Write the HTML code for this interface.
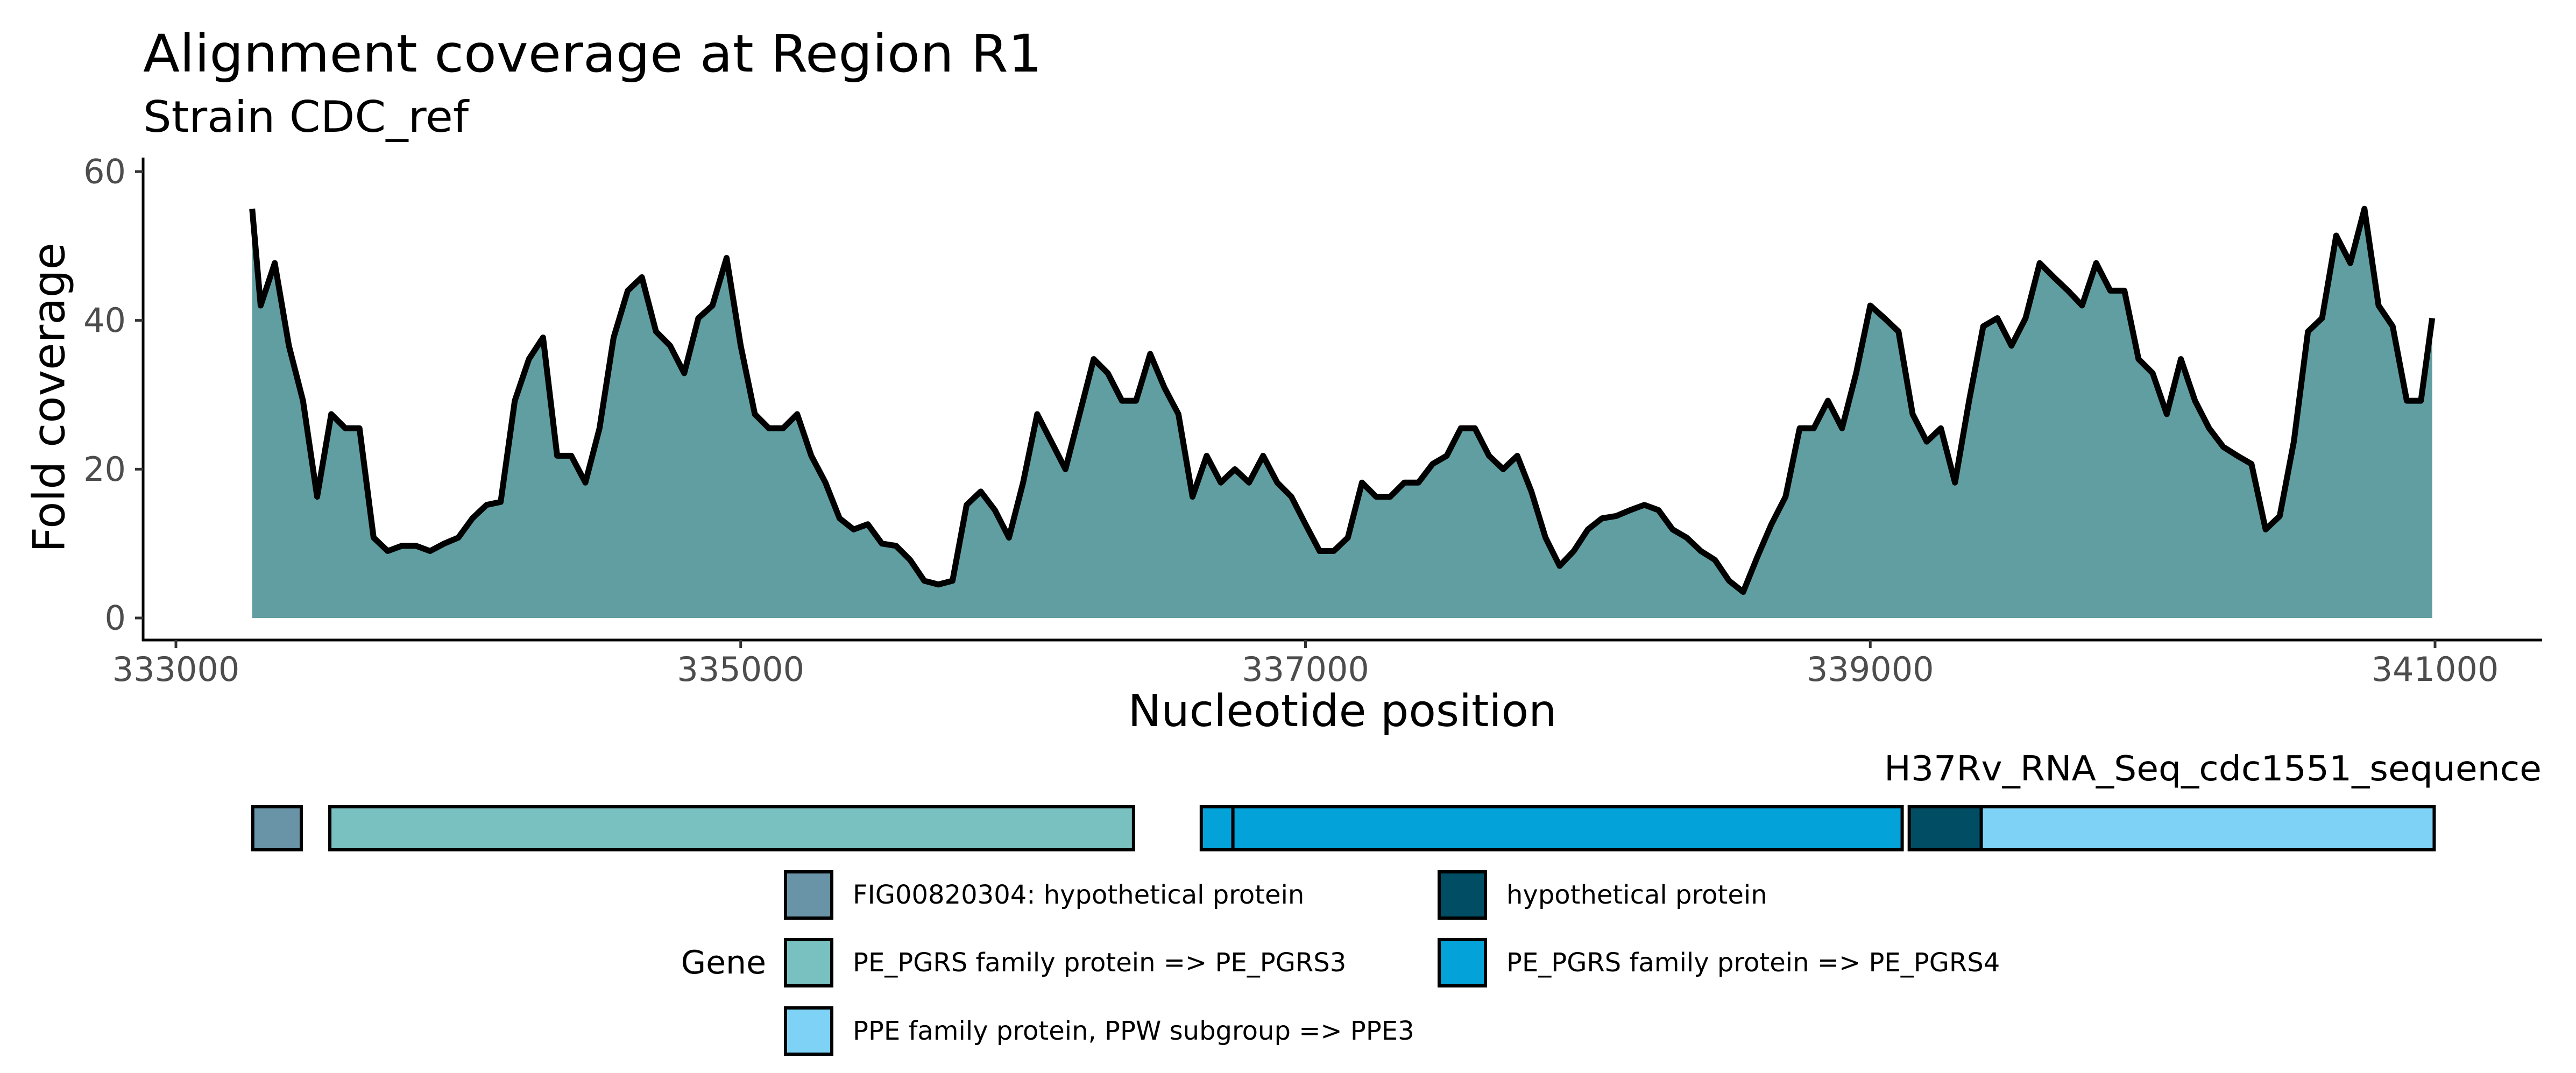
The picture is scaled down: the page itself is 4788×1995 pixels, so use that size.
<!DOCTYPE html>
<html><head><meta charset="utf-8">
<style>
html,body{margin:0;padding:0;background:#fff;}
svg{display:block;font-family:"DejaVu Sans","Liberation Sans",sans-serif;}
</style></head>
<body>
<svg id="chart" width="4788" height="1995" viewBox="0 0 4788 1995" xmlns="http://www.w3.org/2000/svg">
  <rect x="0" y="0" width="4788" height="1995" fill="#fff"/>
  <text x="266" y="133" font-size="96" fill="#000" textLength="1671" lengthAdjust="spacingAndGlyphs">Alignment coverage at Region R1</text>
  <text x="266" y="245" font-size="80" fill="#000" textLength="605" lengthAdjust="spacingAndGlyphs">Strain CDC_ref</text>
  <g id="plot"></g>
  <g id="axes"></g>
  <text x="92" y="739" font-size="82" fill="#000" text-anchor="middle" dominant-baseline="central" transform="rotate(-90 92 739)">Fold coverage</text>
  <text x="2495" y="1350" font-size="82" fill="#000" text-anchor="middle" textLength="797" lengthAdjust="spacingAndGlyphs">Nucleotide position</text>
  <text x="4724" y="1451" font-size="64" fill="#000" text-anchor="end" textLength="1222" lengthAdjust="spacingAndGlyphs">H37Rv_RNA_Seq_cdc1551_sequence</text>
  <g id="genes"></g>
  <g id="legend">
    <text x="1424" y="1790" font-size="60" fill="#000" text-anchor="end" dominant-baseline="central">Gene</text>
  </g>
</svg>
<script>
const positions = [333270,333300,333350,333400,333450,333500,333550,333600,333650,333700,333750,333800,333850,333900,333950,334000,334050,334100,334150,334200,334250,334300,334350,334400,334450,334500,334550,334600,334650,334700,334750,334800,334850,334900,334950,335000,335050,335100,335150,335200,335250,335300,335350,335400,335450,335500,335550,335600,335650,335700,335750,335800,335850,335900,335950,336000,336050,336100,336150,336200,336250,336300,336350,336400,336450,336500,336550,336600,336650,336700,336750,336800,336850,336900,336950,337000,337050,337100,337150,337200,337250,337300,337350,337400,337450,337500,337550,337600,337650,337700,337750,337800,337850,337900,337950,338000,338050,338100,338150,338200,338250,338300,338350,338400,338450,338500,338550,338600,338650,338700,338750,338800,338850,338900,338950,339000,339050,339100,339150,339200,339250,339300,339350,339400,339450,339500,339550,339600,339650,339700,339750,339800,339850,339900,339950,340000,340050,340100,340150,340200,340250,340300,340350,340400,340450,340500,340550,340600,340650,340700,340750,340800,340850,340900,340950,340990];
const coverage = [55,42,47.7,36.6,29.2,16.3,27.4,25.5,25.5,10.8,9,9.7,9.7,9,10,10.8,13.4,15.2,15.6,29.2,34.8,37.7,21.8,21.8,18.2,25.5,37.7,44,45.8,38.5,36.6,32.9,40.3,42,48.4,36.6,27.4,25.5,25.5,27.4,21.8,18.2,13.4,11.9,12.6,10,9.7,7.8,5,4.5,5,15.2,17,14.5,10.8,18.2,27.4,23.7,20,27.4,34.8,32.9,29.2,29.2,35.5,31,27.4,16.3,21.8,18.2,20,18.2,21.8,18.2,16.3,12.6,9,9,10.8,18.2,16.3,16.3,18.2,18.2,20.7,21.8,25.5,25.5,21.8,20,21.8,17,10.8,7,9,11.9,13.4,13.7,14.5,15.2,14.5,11.9,10.8,9,7.8,5,3.5,8.2,12.6,16.3,25.5,25.5,29.2,25.5,32.9,42,40.3,38.5,27.4,23.7,25.5,18.2,29.2,39.2,40.3,36.6,40.3,47.7,45.8,44,42,47.7,44,44,34.8,32.9,27.4,34.8,29.2,25.5,23,21.8,20.7,11.9,13.7,23.7,38.5,40.3,51.4,47.7,55,42,39.2,29.2,29.2,40.3];
const yTicks = [0,20,40,60];
const xTicks = [333000,335000,337000,339000,341000];
const geneNames = ["FIG00820304: hypothetical protein","PE_PGRS family protein => PE_PGRS3","PE_PGRS family protein => PE_PGRS4","PE_PGRS family protein => PE_PGRS4","hypothetical protein","PPE family protein, PPW subgroup => PPE3"];
const geneStarts = [333272,333545,336631,336743,339138,339393];
const geneEnds = [333444,336391,336743,339113,339393,340997];
const legendLabels = ["FIG00820304: hypothetical protein","hypothetical protein","PE_PGRS family protein => PE_PGRS3","PE_PGRS family protein => PE_PGRS4","PPE family protein, PPW subgroup => PPE3"];

const colorMap = {"FIG00820304: hypothetical protein":"#6994a8","PE_PGRS family protein => PE_PGRS3":"#79c0c0","PE_PGRS family protein => PE_PGRS4":"#03a2d8","hypothetical protein":"#014d64","PPE family protein, PPW subgroup => PPE3":"#7dd2f5"};
const NS = "http://www.w3.org/2000/svg";
function xs(v){ return 327 + (v - 333000) * (4526 - 327) / 8000; }
function ys(v){ return 1149 - v * (1149 - 319) / 60; }
function mk(tag, parent){ const e = document.createElementNS(NS, tag); parent.appendChild(e); return e; }

const plot = document.getElementById('plot');
const axes = document.getElementById('axes');
const genes = document.getElementById('genes');
const legend = document.getElementById('legend');

let d = "M" + xs(positions[0]) + "," + ys(0);
let ld = "";
for (let i = 0; i < positions.length; i++) {
  d += " L" + xs(positions[i]) + "," + ys(coverage[i]);
  ld += (i === 0 ? "M" : " L") + xs(positions[i]) + "," + ys(coverage[i]);
}
d += " L" + xs(positions[positions.length-1]) + "," + ys(0) + " Z";
const area = mk('path', plot);
area.setAttribute('d', d);
area.setAttribute('fill', '#609ea1');


const line = mk('path', plot);
line.setAttribute('d', ld);
line.setAttribute('fill', 'none');
line.setAttribute('stroke', '#000');
line.setAttribute('stroke-width', '11');
line.setAttribute('stroke-linejoin', 'round');



const yl = mk('line', axes);
yl.setAttribute('x1', 266); yl.setAttribute('x2', 266); yl.setAttribute('y1', 293); yl.setAttribute('y2', 1192);
yl.setAttribute('stroke', '#000'); yl.setAttribute('stroke-width', '5');


const xl = mk('line', axes);
xl.setAttribute('x1', 264); xl.setAttribute('x2', 4725); xl.setAttribute('y1', 1190); xl.setAttribute('y2', 1190);
xl.setAttribute('stroke', '#000'); xl.setAttribute('stroke-width', '5');



yTicks.forEach(function(t){
  const tk = mk('line', axes);
  tk.setAttribute('x1', 251); tk.setAttribute('x2', 266); tk.setAttribute('y1', ys(t)); tk.setAttribute('y2', ys(t));
  tk.setAttribute('stroke', '#333'); tk.setAttribute('stroke-width', '5');
  
  
  const tl = mk('text', axes);
  tl.setAttribute('x', 234); tl.setAttribute('y', ys(t));
  tl.setAttribute('text-anchor', 'end'); tl.setAttribute('dominant-baseline', 'central');
  tl.setAttribute('font-size', '62'); tl.setAttribute('fill', '#4d4d4d');
  tl.textContent = t;
  
  
});
xTicks.forEach(function(t){
  const tk = mk('line', axes);
  tk.setAttribute('x1', xs(t)); tk.setAttribute('x2', xs(t)); tk.setAttribute('y1', 1190); tk.setAttribute('y2', 1205);
  tk.setAttribute('stroke', '#333'); tk.setAttribute('stroke-width', '5');
  
  
  const tl = mk('text', axes);
  tl.setAttribute('x', xs(t)); tl.setAttribute('y', 1266);
  tl.setAttribute('text-anchor', 'middle');
  tl.setAttribute('font-size', '62'); tl.setAttribute('fill', '#4d4d4d');
  tl.textContent = t;
  
  
});

for (let i = 0; i < geneNames.length; i++) {
  const r = mk('rect', genes);
  r.setAttribute('x', xs(geneStarts[i]));
  r.setAttribute('y', 1500);
  r.setAttribute('width', xs(geneEnds[i]) - xs(geneStarts[i]));
  r.setAttribute('height', 80);
  r.setAttribute('fill', colorMap[geneNames[i]]);
  r.setAttribute('stroke', '#000');
  r.setAttribute('stroke-width', '6');
  
  
}

const keyX = [1460, 2675, 1460, 2675, 1460];
const keyY = [1621, 1621, 1747, 1747, 1874];
for (let i = 0; i < legendLabels.length; i++) {
  const k = mk('rect', legend);
  k.setAttribute('x', keyX[i]); k.setAttribute('y', keyY[i]);
  k.setAttribute('width', 86); k.setAttribute('height', 86);
  k.setAttribute('fill', colorMap[legendLabels[i]]);
  k.setAttribute('stroke', '#000'); k.setAttribute('stroke-width', '6');
  
  
  const t = mk('text', legend);
  t.setAttribute('x', keyX[i] + 125); t.setAttribute('y', keyY[i] + 43);
  t.setAttribute('dominant-baseline', 'central');
  t.setAttribute('font-size', '48'); t.setAttribute('fill', '#000');
  t.textContent = legendLabels[i];
  
  
}
</script>
</body></html>
